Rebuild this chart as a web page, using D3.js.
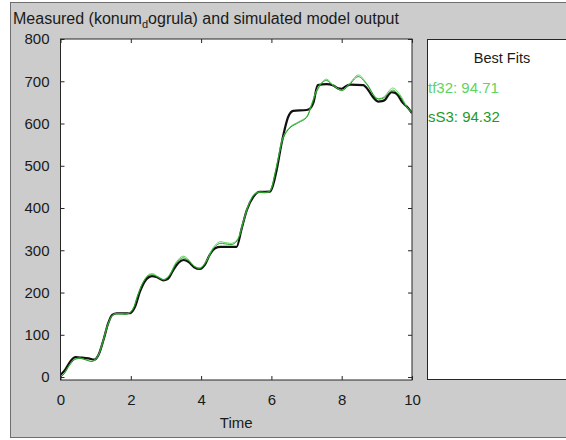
<!DOCTYPE html>
<html>
<head>
<meta charset="utf-8">
<script src="https://cdn.jsdelivr.net/npm/d3@7"></script>
<style>
  html, body { margin: 0; padding: 0; background: #ffffff; }
  svg { display: block; }
  text { font-family: "Liberation Sans", Arial, Helvetica, sans-serif; }
</style>
</head>
<body>
<svg id="chart" width="566" height="440"></svg>
<script>
// ---- Data ----
const measuredTime = [0, 0.13, 0.27, 0.43, 0.6, 0.8, 0.96, 1.08, 1.22, 1.36, 1.47, 1.6, 1.98, 2.12, 2.26, 2.45, 2.6, 2.75, 2.92, 3.05, 3.2, 3.35, 3.5, 3.65, 3.8, 3.97, 4.1, 4.25, 4.4, 4.55, 5.01, 5.15, 5.3, 5.49, 5.65, 5.96, 6.05, 6.15, 6.29, 6.48, 6.62, 7.0, 7.1, 7.19, 7.32, 7.57, 7.76, 7.9, 8.0, 8.12, 8.24, 8.61, 8.75, 8.85, 9.04, 9.15, 9.23, 9.35, 9.42, 9.5, 9.6, 9.71, 9.85, 10];
const measuredValues = [5, 17, 36, 47, 46, 44, 41, 52, 87, 128, 147, 151, 151, 166, 202, 232, 239, 236, 229, 232, 252, 270, 277, 272, 260, 256, 265, 290, 305, 308, 308, 350, 395, 427, 438, 439, 455, 490, 553, 616, 630, 632, 635, 648, 691, 693, 690, 683, 682, 688, 692, 691, 680, 667, 652, 653, 656, 670, 674, 673, 667, 652, 640, 625];

const simTime = [0, 0.1, 0.25, 0.4, 0.55, 0.75, 0.9, 1.05, 1.2, 1.35, 1.5, 1.7, 1.9, 2.05, 2.2, 2.35, 2.5, 2.62, 2.8, 2.95, 3.1, 3.3, 3.48, 3.62, 3.8, 3.97, 4.15, 4.35, 4.52, 4.7, 4.9, 5.05, 5.2, 5.35, 5.5, 5.65, 5.8, 5.95, 6.1, 6.2, 6.34, 6.53, 6.77, 7.0, 7.15, 7.29, 7.45, 7.57, 7.76, 8.0, 8.19, 8.47, 8.71, 9.0, 9.18, 9.45, 9.66, 9.85, 10];
const tf32Values = [0, 8, 28, 42, 45, 40, 37, 48, 82, 125, 148, 150, 150, 160, 195, 225, 242, 245, 236, 231, 242, 273, 286, 280, 263, 258, 275, 307, 320, 318, 317, 328, 368, 408, 432, 438, 437, 440, 482, 521, 569, 592, 604, 616, 648, 679, 699, 705, 691, 679, 691, 715, 695, 660, 662, 684, 668, 640, 625];
const sS3Values  = [0, 7, 27, 41, 44, 40, 37, 47, 81, 124, 147, 149, 149, 159, 194, 224, 240, 242, 235, 230, 240, 270, 282, 277, 262, 257, 273, 304, 316, 315, 314, 326, 366, 406, 430, 437, 436, 439, 480, 519, 566, 590, 602, 614, 645, 676, 697, 702, 689, 678, 689, 711, 693, 659, 660, 679, 664, 638, 627];

const xTicks = [0, 2, 4, 6, 8, 10];
const yTicks = [0, 100, 200, 300, 400, 500, 600, 700, 800];
const legendNames = ["tf32: 94.71", "sS3: 94.32"];

// ---- Layout ----
const svg = d3.select("#chart");
const plot = { left: 60.5, right: 412, top: 39, bottom: 380 };
const x = d3.scaleLinear().domain([0, 10]).range([plot.left, plot.right]);
const y = d3.scaleLinear().domain([-7, 800]).range([plot.bottom, plot.top]);

const axisColor = "#262626";
const tf32Color = "#5fd35f";
const sS3Color = "#1f9a1f";

// outer figure panel
svg.append("rect").attr("x", 10.5).attr("y", 2.5).attr("width", 600).attr("height", 435)
  .attr("fill", "#cccccc").attr("stroke", "#6e6e6e").attr("stroke-width", 1);

// title
const title = svg.append("text").attr("x", 13).attr("y", 24)
  .attr("font-size", 16).attr("fill", "#1a1a1a");
title.append("tspan").text("Measured (konum");
title.append("tspan").attr("font-size", 11).attr("dy", 4).text("d");
title.append("tspan").attr("dy", -4).text("ogrula) and simulated model output");

// plot background
svg.append("rect").attr("x", plot.left).attr("y", plot.top)
  .attr("width", plot.right - plot.left).attr("height", plot.bottom - plot.top)
  .attr("fill", "#ffffff");

// clip
svg.append("clipPath").attr("id", "clip").append("rect")
  .attr("x", plot.left).attr("y", plot.top)
  .attr("width", plot.right - plot.left).attr("height", plot.bottom - plot.top);

const g = svg.append("g").attr("clip-path", "url(#clip)");

const lineMeasured = d3.line().x((d, i) => x(measuredTime[i])).y(d => y(d)).curve(d3.curveMonotoneX);
const lineSim = d3.line().x((d, i) => x(simTime[i])).y(d => y(d)).curve(d3.curveCatmullRom.alpha(0.5));

g.append("path").datum(measuredValues).attr("d", lineMeasured)
  .attr("fill", "none").attr("stroke", "#111111").attr("stroke-width", 2.2);
g.append("path").datum(tf32Values).attr("d", lineSim)
  .attr("fill", "none").attr("stroke", tf32Color).attr("stroke-width", 1);
g.append("path").datum(sS3Values).attr("d", lineSim)
  .attr("fill", "none").attr("stroke", sS3Color).attr("stroke-width", 1);

// axes (inward ticks, box)
const xAxisB = d3.axisBottom(x).tickValues(xTicks).tickSizeInner(-4).tickSizeOuter(0).tickPadding(14);
const xAxisT = d3.axisTop(x).tickValues(xTicks).tickSizeInner(-4).tickSizeOuter(0).tickFormat("");
const yAxisL = d3.axisLeft(y).tickValues(yTicks).tickSizeInner(-4).tickSizeOuter(0).tickPadding(11);
const yAxisR = d3.axisRight(y).tickValues(yTicks).tickSizeInner(-4).tickSizeOuter(0).tickFormat("");

function styleAxis(sel) {
  sel.select(".domain").remove();
  sel.selectAll("line").attr("stroke", axisColor);
  sel.selectAll("text").attr("fill", "#1a1a1a").attr("font-size", 15)
    .attr("font-family", "'Liberation Sans', Arial, sans-serif");
}
svg.append("g").attr("transform", `translate(0,${plot.bottom})`).call(xAxisB).call(styleAxis);
svg.append("g").attr("transform", `translate(0,${plot.top})`).call(xAxisT).call(styleAxis);
svg.append("g").attr("transform", `translate(${plot.left},0)`).call(yAxisL).call(styleAxis);
svg.append("g").attr("transform", `translate(${plot.right},0)`).call(yAxisR).call(styleAxis);

svg.append("rect").attr("x", plot.left).attr("y", plot.top)
  .attr("width", plot.right - plot.left).attr("height", plot.bottom - plot.top)
  .attr("fill", "none").attr("stroke", axisColor).attr("stroke-width", 1);

// x label
svg.append("text").attr("x", (plot.left + plot.right) / 2).attr("y", 428)
  .attr("text-anchor", "middle").attr("font-size", 15).attr("fill", "#1a1a1a").text("Time");

// legend panel
svg.append("rect").attr("x", 427.5).attr("y", 39.5).attr("width", 200).attr("height", 340)
  .attr("fill", "#ffffff").attr("stroke", axisColor).attr("stroke-width", 1);
svg.append("text").attr("x", 502).attr("y", 63).attr("text-anchor", "middle")
  .attr("font-size", 14.5).attr("fill", "#1a1a1a").text("Best Fits");
const legendColors = [tf32Color, sS3Color];
legendNames.forEach((name, i) => {
  svg.append("text").attr("x", 428).attr("y", 93 + i * 29)
    .attr("font-size", 15).attr("fill", legendColors[i]).text(name);
});
</script>
</body>
</html>
